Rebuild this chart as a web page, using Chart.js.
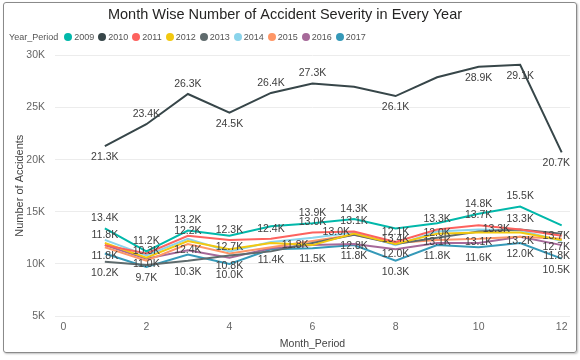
<!DOCTYPE html>
<html>
<head>
<meta charset="utf-8">
<script src="https://cdn.jsdelivr.net/npm/chart.js@4"></script>
<style>
  body { margin: 0; background: #fff; }
  #wrap { position: relative; width: 580px; height: 360px; }
  #frame {
    position: absolute; left: 3px; top: 2px; width: 572px; height: 349px;
    border: 1px solid #8a8a8a; border-radius: 3px;
    box-shadow: 1px 1px 2px rgba(0,0,0,0.25); pointer-events: none;
  }
  #legend {
    position: absolute; left: 9px; top: 31px; height: 12px;
    font: 9px "Liberation Sans", Arial, sans-serif; color: #555;
    display: flex; align-items: center; white-space: nowrap;
  }
  #legend .item { display: flex; align-items: center; margin-left: 4px; }
  #legend .dot { width: 8px; height: 8px; border-radius: 50%; margin-right: 2px; }
</style>
</head>
<body>
<div id="wrap">
  <canvas id="chart" width="580" height="360"></canvas>
  <div id="legend"></div>
  <div id="frame"></div>
</div>
<script>
/* DATA (thousands of accidents per month) */
const months = [1, 2, 3, 4, 5, 6, 7, 8, 9, 10, 11, 12];
const years = ["2009", "2010", "2011", "2012", "2013", "2014", "2015", "2016", "2017"];

const y2009 = [13.4, 11.2, 13.2, 12.7, 13.6, 13.9, 14.3, 13.4, 13.9, 14.8, 15.5, 13.7];
const y2010 = [21.3, 23.4, 26.3, 24.5, 26.4, 27.3, 27.0, 26.1, 27.9, 28.9, 29.1, 20.7];
const y2011 = [11.8, 11.0, 12.7, 12.3, 12.4, 13.0, 13.1, 12.1, 13.3, 13.7, 13.3, 12.7];
const y2012 = [12.0, 10.6, 12.2, 11.4, 12.0, 11.8, 12.9, 11.9, 12.9, 13.0, 13.0, 12.3];
const y2013 = [10.2, 9.9, 10.3, 10.8, 11.2, 12.0, 12.8, 11.9, 12.5, 13.1, 13.3, 12.9];
const y2014 = [12.3, 10.8, 12.4, 11.2, 12.1, 12.5, 13.0, 11.8, 13.1, 13.3, 13.2, 12.2];
const y2015 = [11.6, 10.3, 11.9, 11.0, 11.6, 12.2, 12.8, 12.0, 12.3, 12.4, 12.6, 12.4];
const y2016 = [11.8, 10.5, 11.3, 10.6, 11.5, 11.8, 11.9, 11.4, 12.0, 12.0, 12.6, 11.8];
const y2017 = [11.0, 9.7, 10.9, 10.0, 11.4, 11.5, 11.8, 10.3, 11.8, 11.6, 12.0, 10.5];

const xTicks = [0, 2, 4, 6, 8, 10, 12];
const yTicks = [5, 10, 15, 20, 25, 30];
const yTickLabels = ["5K", "10K", "15K", "20K", "25K", "30K"];

/* STYLE */
const colors = ["#01B8AA", "#374649", "#FD625E", "#F2C80F", "#5F6B6D", "#8AD4EB", "#FE9666", "#A66999", "#3599B8"];
const series = [y2009, y2010, y2011, y2012, y2013, y2014, y2015, y2016, y2017];

// which points carry a data label: a = above, b = below, l = left, r = right, - = none
const labelPlace = [
  "aaab-aab-aab",
  "baabaa-b-bbb",
  "ab-aaaaaaaab",
  "--a--l------",
  "b-bb--b--b--",
  "--b---l-brb-",
  "-a-----b----",
  "b-------a--b",
  "-b-bbbbbbbbb"
];

const FONT = "'Liberation Sans', Arial, sans-serif";

/* LEGEND */
const legend = document.getElementById("legend");
legend.innerHTML = `<span style="margin-right:2px">Year_Period</span>` +
  years.map((y, i) => `
    <span class="item"><span class="dot" style="background:${colors[i]}"></span>${y}</span>
  `).join("");

/* DATA LABELS */
const dataLabels = {
  id: "dataLabels",
  afterDatasetsDraw(chart) {
    const ctx = chart.ctx;
    ctx.save();
    ctx.font = "10.5px " + FONT;
    ctx.fillStyle = "#404040";
    ctx.textBaseline = "middle";
    chart.data.datasets.forEach((ds, i) => {
      const meta = chart.getDatasetMeta(i);
      meta.data.forEach((pt, j) => {
        const place = labelPlace[i][j];
        if (place === "-") return;
        const text = ds.data[j].y.toFixed(1) + "K";
        const w = ctx.measureText(text).width;
        let x = pt.x, y = pt.y;
        if (place === "a") y -= 10;
        if (place === "b") y += 11;
        if (place === "l") x -= w / 2 + 4;
        if (place === "r") x += w / 2 + 4;
        x = Math.min(x, chart.width - 10 - w / 2);
        ctx.textAlign = "center";
        ctx.fillText(text, x, y);
      });
    });
    ctx.restore();
  }
};

/* CHART */
const chart = new Chart(document.getElementById("chart"), {
  type: "line",
  data: {
    datasets: years.map((y, i) => ({
      label: y,
      data: months.map((m, j) => ({ x: m, y: series[i][j] })),
      borderColor: colors[i],
      backgroundColor: colors[i],
      borderWidth: 2,
      pointRadius: 0,
      tension: 0
    }))
  },
  options: {
    responsive: false,
    animation: false,
    layout: { padding: { left: 0, right: 10, top: 0, bottom: 0 } },
    plugins: {
      legend: { display: false },
      tooltip: { enabled: false },
      title: {
        display: true,
        text: "Month Wise Number of Accident Severity in Every Year",
        color: "#252423",
        font: { family: FONT, size: 14.5, weight: "normal" },
        padding: { top: 6, bottom: 32 }
      }
    },
    scales: {
      x: {
        type: "linear",
        min: -0.2,
        max: 12.2,
        afterBuildTicks: s => { s.ticks = xTicks.map(v => ({ value: v })); },
        afterFit: s => { s.height = 44; },
        grid: { display: false, drawTicks: false },
        border: { display: false },
        ticks: { color: "#666", font: { family: FONT, size: 10.5 }, padding: 5 },
        title: {
          display: true,
          text: "Month_Period",
          color: "#444",
          font: { family: FONT, size: 10.5 },
          padding: { top: 0, bottom: 10 }
        }
      },
      y: {
        min: 5,
        max: 30,
        afterBuildTicks: s => { s.ticks = yTicks.map(v => ({ value: v })); },
        afterFit: s => { s.width = 55; },
        grid: { color: "#ececec", drawTicks: false },
        border: { display: false },
        ticks: {
          color: "#666",
          font: { family: FONT, size: 10.5 },
          padding: 10,
          callback: (v, i) => yTickLabels[i]
        },
        title: {
          display: true,
          text: "Number of Accidents",
          color: "#444",
          font: { family: FONT, size: 11 },
          padding: { top: 13, bottom: 0 }
        }
      }
    }
  },
  plugins: [dataLabels]
});
</script>
</body>
</html>
